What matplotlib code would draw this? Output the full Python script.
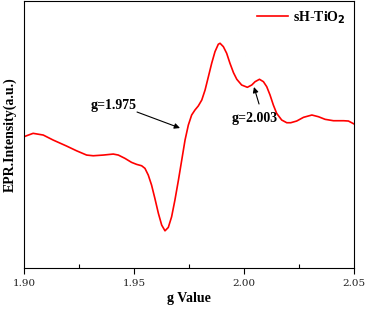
import matplotlib.pyplot as plt
from matplotlib.ticker import MultipleLocator

# EPR spectrum of sH-TiO2 (intensity in arbitrary units)
g_value = [1.9000, 1.9042, 1.9088, 1.9133, 1.9194, 1.9239, 1.9285, 1.9315,
           1.9361, 1.9406, 1.9429, 1.9459, 1.9489, 1.9512, 1.9535, 1.9550,
           1.9565, 1.9580, 1.9595, 1.9611, 1.9626, 1.9641, 1.9656, 1.9671,
           1.9686, 1.9702, 1.9717, 1.9732, 1.9747, 1.9762, 1.9777, 1.9792,
           1.9808, 1.9823, 1.9838, 1.9853, 1.9868, 1.9883, 1.9891, 1.9906,
           1.9921, 1.9936, 1.9952, 1.9967, 1.9989, 2.0015, 2.0035, 2.0050,
           2.0070, 2.0088, 2.0103, 2.0118, 2.0133, 2.0148, 2.0171, 2.0194,
           2.0212, 2.0239, 2.0270, 2.0308, 2.0338, 2.0368, 2.0406, 2.0452,
           2.0474, 2.0500]
intensity = [131.3, 134.7, 133.0, 128.0, 122.0, 117.3, 113.0, 112.3,
             113.0, 114.0, 113.0, 109.7, 105.7, 103.7, 102.3, 99.7,
             93.0, 83.0, 69.7, 54.7, 43.0, 37.3, 40.7, 51.3,
             68.0, 88.0, 108.0, 128.0, 143.0, 153.0, 158.0, 162.0,
             168.0, 178.0, 191.3, 204.7, 216.3, 223.7, 224.7, 221.3,
             214.7, 204.7, 195.3, 188.7, 183.0, 180.7, 183.0, 186.3,
             188.7, 186.3, 181.3, 173.0, 163.0, 154.7, 148.0, 145.3,
             145.3, 147.0, 150.7, 153.0, 151.3, 148.7, 147.3, 147.3,
             147.0, 144.0]

xticks = [1.90, 1.95, 2.00, 2.05]
xtick_labels = ['1.90', '1.95', '2.00', '2.05']

plt.rcParams['font.family'] = ['Liberation Serif', 'DejaVu Serif']

fig = plt.figure(figsize=(3.67, 3.10), dpi=100)
ax = fig.add_axes([0.065, 0.135, 0.9, 0.862])

ax.plot(g_value, intensity, color='#ff0000', linewidth=1.2,
        solid_joinstyle='round', label='sH-TiO$_\\mathbf{2}$')

ax.set_xlim(1.90, 2.05)
ax.set_ylim(0, 267)
ax.set_xticks(xticks)
ax.set_xticklabels(xtick_labels, fontfamily='DejaVu Serif', color='#222222')
ax.xaxis.set_minor_locator(MultipleLocator(0.025))
ax.tick_params(axis='x', which='major', direction='out', length=4, width=0.8,
               labelsize=7.5, pad=4)
ax.tick_params(axis='x', which='minor', direction='in', length=3, width=0.8)
ax.set_yticks([])

ax.set_xlabel('g Value', fontsize=10, fontweight='bold', labelpad=3)
ax.set_ylabel('EPR.Intensity(a.u.)', fontsize=10, fontweight='bold', labelpad=5)

# peak labels and arrows
ax.text(1.9407, 163, 'g=1.975', fontsize=10, fontweight='bold',
        ha='center', va='center')
ax.annotate('', xy=(1.9709, 140), xytext=(1.9514, 156),
            arrowprops=dict(arrowstyle='-|>', color='black', lw=0.8,
                            mutation_scale=8, shrinkA=0, shrinkB=0))
ax.text(2.0048, 150, 'g=2.003', fontsize=10, fontweight='bold',
        ha='center', va='center')
ax.annotate('', xy=(2.0045, 181), xytext=(2.0068, 164),
            arrowprops=dict(arrowstyle='-|>', color='black', lw=0.8,
                            mutation_scale=8, shrinkA=0, shrinkB=0))

leg = ax.legend(loc='upper right', frameon=False, fontsize=10,
                handlelength=2.2, borderaxespad=0.2, handletextpad=0.4)
for t in leg.get_texts():
    t.set_fontweight('bold')

plt.savefig('out.png', dpi=100)
plt.close()
